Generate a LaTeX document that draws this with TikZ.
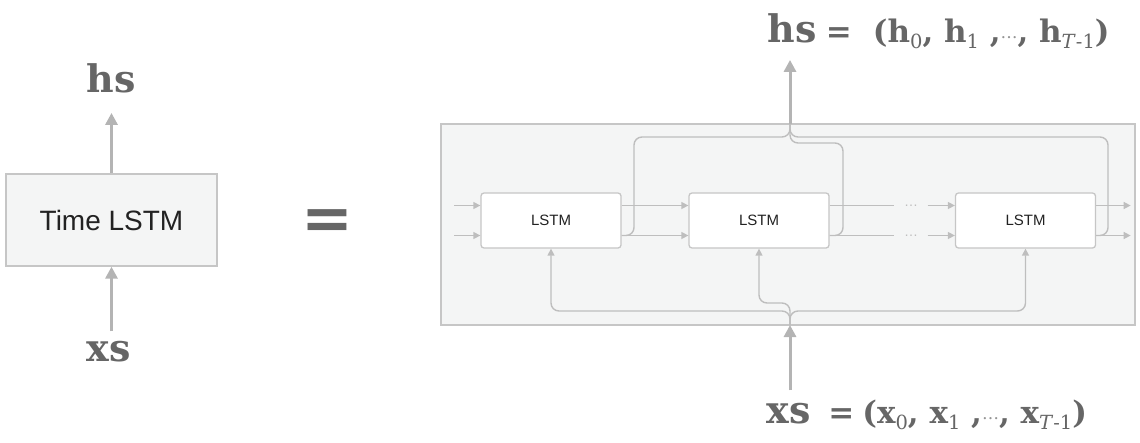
\documentclass[tikz,border=0pt]{standalone}
\usepackage{fontspec}
\setmainfont{DejaVu Serif}
\setsansfont{Liberation Sans}
\newfontfamily\eqfont{DejaVu Sans}
\usetikzlibrary{math, calc, positioning, arrows.meta}

\definecolor{panelfill}{HTML}{F4F5F5}
\definecolor{panelline}{HTML}{C6C6C6}
\definecolor{wiregray}{HTML}{BEBEBE}
\definecolor{arrowgray}{HTML}{B4B4B4}
\definecolor{labelgray}{HTML}{666666}
\definecolor{textdark}{HTML}{222222}

\newcommand{\seqsub}[1]{\raisebox{-6pt}{\mdseries\fontsize{19.5}{19.5}\selectfont #1}}
\newcommand{\seqdots}{\raisebox{4pt}{\mdseries\color{labelgray!70}\fontsize{17}{17}\selectfont …}}

\tikzset{
    panel/.style={draw=panelline, fill=panelfill, line width=1.3pt},
    lstmbox/.style={draw=panelline, fill=white, line width=1.3pt, rounded corners=3pt, minimum width=140pt, minimum height=55pt, font=\sffamily\fontsize{15}{15}\selectfont, text=textdark},
    wireline/.style={draw=wiregray, line width=1.4pt, rounded corners=8pt},
    thintip/.style={-{Triangle[length=7pt, width=7pt]}},
    bigarrow/.style={draw=arrowgray, line width=3pt, -{Triangle[length=12pt, width=12pt]}},
    seqlabel/.style={text=labelgray, font=\bfseries\fontsize{38}{38}\selectfont, inner sep=0pt},
    tuplelabel/.style={text=labelgray, font=\bfseries\fontsize{31}{31}\selectfont, inner sep=0pt, anchor=base west},
    wiredots/.style={text=wiregray, font=\sffamily\fontsize{14}{14}\selectfont, inner sep=0pt, minimum width=33pt},
}

\begin{document}
\begin{tikzpicture}[x=1pt, y=-1pt]
    \tikzmath{
        \rowup=205.5;
        \rowlow=235.5;
        \hsbus=137;
        \hsbusmid=143;
        \xsbus=311;
        \xsbusmid=303;
        \spine=790;
    }
    \useasboundingbox (0, 0) rectangle (1140, 442);

    % left: Time LSTM block
    \node [panel, minimum width=211pt, minimum height=92pt, font=\sffamily\fontsize{28}{28}\selectfont, text=textdark] (timebox) at (111.5, 220) {Time LSTM};
    \node [seqlabel] (hsL) at (111, 78) {hs};
    \node [seqlabel] (xsL) at (109, 352) {xs};
    \draw [bigarrow, shorten >=20pt] (timebox.north) -- (timebox.north |- hsL.south);
    \draw [bigarrow, shorten <=10pt] (timebox.south |- xsL.north) -- (timebox.south);

    % equals
    \node [text=labelgray, font=\eqfont\bfseries\fontsize{62}{62}\selectfont, inner sep=0pt] (equal) at (327, 225) {=};

    % right: unrolled layer
    \node [panel, minimum width=694pt, minimum height=201pt] (unroll) at (788, 224.5) {};
    \node [lstmbox] (lstm1) at (551, 220.5) {LSTM};
    \node [lstmbox] (lstm2) at (759, 220.5) {LSTM};
    \node [lstmbox] (lstm3) at (1025.5, 220.5) {LSTM};
    \coordinate (hsjoin) at (\spine, 124);
    \coordinate (xsjoin) at (\spine, 325);

    % rows between steps
    \foreach \r in {\rowup, \rowlow}{%
            \coordinate (feed) at ($ (lstm1.west |- 0, \r) + (-26, 0) $);
            \draw [wireline, thintip] (feed) -- (lstm1.west |- feed);
            \draw [wireline, thintip] (lstm1.east |- feed) -- (lstm2.west |- feed);
            \node [wiredots] (gap) at (911, \r) {…};
            \draw [wireline] (lstm2.east |- gap) -- (gap.west);
            \draw [wireline, thintip] (gap.east) -- (lstm3.west |- gap);
            \coordinate (out) at ($ (lstm3.east |- gap) + (34.5, 0) $);
            \draw [wireline, thintip] (lstm3.east |- out) -- (out);
        }

    % hs branches
    \draw [wireline] (lstm1.east |- 0, \rowlow) -| (634, \hsbus) -| (hsjoin);
    \draw [wireline] (lstm2.east |- 0, \rowlow) -| (843, \hsbusmid) -| (hsjoin);
    \draw [wireline] (lstm3.east |- 0, \rowlow) -| (1108, \hsbus) -| (hsjoin);

    % xs branches
    \draw [wireline, thintip] (xsjoin) |- (lstm1.south |- 0, \xsbus) -- (lstm1.south);
    \draw [wireline, thintip] (xsjoin) |- (lstm2.south |- 0, \xsbusmid) -- (lstm2.south);
    \draw [wireline, thintip] (xsjoin) |- (lstm3.south |- 0, \xsbus) -- (lstm3.south);

    % hs and xs sequences
    \node [seqlabel] (hsR) at (792, 28) {hs};
    \node [tuplelabel] (hsseq) at ([xshift=9pt] hsR.base east) {=\hspace{21pt}(h\seqsub{0}, h\seqsub{1} ,\seqdots, h\seqsub{\textit{T}-1})};
    \node [seqlabel] (xsR) at (789, 414) {xs};
    \node [tuplelabel] (xsseq) at ([xshift=17pt] xsR.base east) {=\hspace{8pt}(x\seqsub{0}, x\seqsub{1} ,\seqdots, x\seqsub{\textit{T}-1})};
    \draw [bigarrow, shorten >=17pt] (hsjoin) -- (hsjoin |- hsR.south);
    \draw [bigarrow, shorten <=13pt] (xsjoin |- xsR.north) -- (xsjoin);
\end{tikzpicture}
\end{document}
